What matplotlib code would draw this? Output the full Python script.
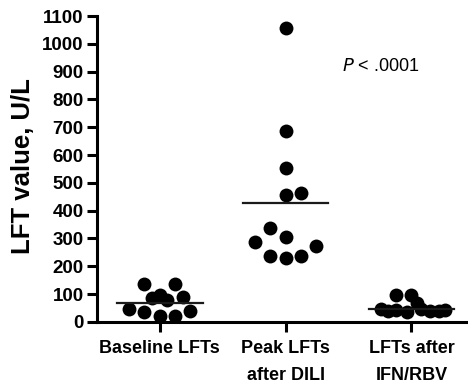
import matplotlib.pyplot as plt
import numpy as np

plt.rcParams['font.family'] = ['Liberation Sans', 'DejaVu Sans']

# data (U/L)
groups = ['Baseline LFTs', 'Peak LFTs\nafter DILI', 'LFTs after\nIFN/RBV']
baseline = [137, 137, 85, 97, 79, 88, 46, 35, 22, 22, 40]
peak = [1057, 687, 552, 455, 462, 338, 288, 304, 238, 230, 236, 274]
after = [97, 97, 67, 45, 38, 42, 35, 48, 40, 38, 44]
means = [67, 427, 47]

# horizontal scatter slots (in marker widths) so points don't overlap
base_slot = [-1, 1, -0.5, 0, 0.5, 1.5, -2, -1, 0, 1, 2]
peak_slot = [0, 0, 0, 0, 1, -1, -2, 0, -1, 0, 1, 2]
after_slot = [-1, 0, 0.35, -2, -1.5, -1, -0.3, 0.6, 1.2, 1.8, 2.2]

fig = plt.figure(figsize=(4.68, 3.86), dpi=100)
ax = fig.add_axes([0.207, 0.166, 0.793, 0.7925])

step = 0.122
for i, (vals, slots) in enumerate([(baseline, base_slot), (peak, peak_slot), (after, after_slot)]):
    x = i + np.array(slots) * step
    ax.plot(x, vals, 'o', color='black', markersize=10, markeredgewidth=0)
    ax.plot([i - 0.34, i + 0.34], [means[i], means[i]], color='#1a1a1a', lw=1.6)

ax.text(1.445, 917, r'$P$ < .0001', fontsize=13, ha='left', va='center')

ax.set_xlim(-0.5, 2.45)
ax.set_ylim(0, 1100)
ax.set_yticks(np.arange(0, 1101, 100))
ax.set_xticks(range(3))
ax.set_xticklabels(groups, fontsize=13, fontweight='bold', linespacing=1.75)
ax.tick_params(axis='y', labelsize=13.5, width=2.2, length=7, pad=2.5)
ax.tick_params(axis='x', width=2.2, length=7, pad=6)
for lab in ax.get_yticklabels():
    lab.set_fontweight('bold')
ax.set_ylabel('LFT value, U/L', fontsize=18.5, fontweight='bold', va='center')
ax.yaxis.set_label_coords(-0.2, 0.51)

ax.spines['top'].set_visible(False)
ax.spines['right'].set_visible(False)
ax.spines['left'].set_linewidth(2.2)
ax.spines['bottom'].set_linewidth(2.2)

plt.savefig('out.png', dpi=100)
